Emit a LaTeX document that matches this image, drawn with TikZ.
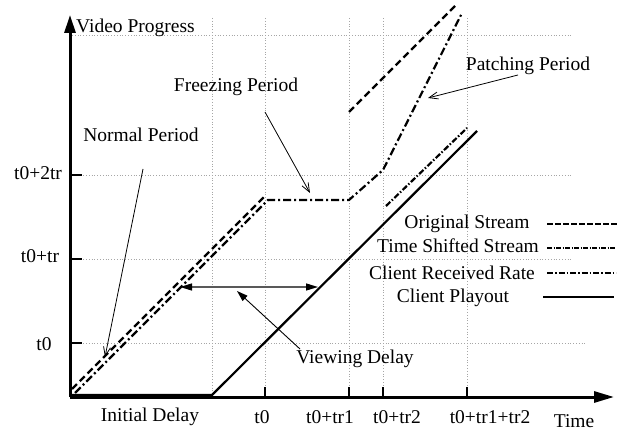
\documentclass[tikz,border=0pt]{standalone}
\usepackage{fontspec}
\setmainfont{Liberation Serif}
\usetikzlibrary{arrows.meta}
\tikzset{
  lbl/.style={inner sep=0pt, font=\fontsize{19.5}{22}\selectfont, anchor=base},
  grid/.style={dotted, gray!70, line width=0.8pt},
  axis/.style={line width=3pt},
  curve/.style={line width=2.2pt},
  origpat/.style={dash pattern=on 7pt off 4pt},
  shiftpat/.style={dash pattern=on 6pt off 2pt on 1.5pt off 2pt},
  recvpat/.style={dash pattern=on 8pt off 3pt on 2pt off 3pt},
  note/.style={line width=0.8pt, -{Straight Barb[length=9pt,width=7pt]}},
  fnote/.style={line width=0.9pt, -{Triangle[length=11pt,width=7pt]}},
}
\begin{document}
\begin{tikzpicture}[x=1pt,y=-1pt]
\useasboundingbox (0,0) rectangle (634,435);
% grid
\foreach \gx in {212,265,349,383,467} \draw[grid] (\gx,18) -- (\gx,397);
\foreach \gy in {35,175,259} \draw[grid] (72,\gy) -- (573,\gy);
\draw[grid] (72,343) -- (587,343);
% axes
\coordinate (O) at (70,397);
\coordinate (ytop) at (70,15);
\coordinate (xend) at (614,397);
\draw[axis, -{Triangle[length=18pt,width=11pt]}] (O) -- (ytop);
\draw[axis, -{Triangle[length=20pt,width=11pt]}] (O) -- (xend);
% ticks
\foreach \gy in {175,259,343} \draw[line width=1.5pt] (70,\gy) -- (82,\gy);
\foreach \gx in {265,349,383,467} \draw[line width=1.5pt] (\gx,397) -- (\gx,387);
% axis labels
\node[lbl, anchor=base west] (vp) at (76,33) {Video Progress};
\node[lbl] (y2) at (38,180) {t0+2tr};
\node[lbl] (y1) at (40,263) {t0+tr};
\node[lbl] (y0) at (44,350) {t0};
\node[lbl] (xi) at (150,421) {Initial Delay};
\node[lbl] (x0) at (262,423) {t0};
\node[lbl] (x1) at (330,423) {t0+tr1};
\node[lbl] (x2) at (397,423) {t0+tr2};
\node[lbl] (x3) at (490,423) {t0+tr1+tr2};
\node[lbl] (xt) at (574,427) {Time};
% curves
\coordinate (o1) at (72,389); \coordinate (o2) at (265,196);
\coordinate (o3) at (349,112); \coordinate (o4) at (456,5);
\draw[curve, origpat] (o1) -- (o2);
\draw[curve, origpat] (o3) -- (o4);
\coordinate (r1) at (75,393); \coordinate (r2) at (268,200);
\coordinate (r3) at (349,200); \coordinate (r4) at (383,170); \coordinate (r5) at (462,13);
\draw[curve, recvpat] (r1) -- (r2) -- (r3) -- (r4) -- (r5);
\coordinate (s1) at (386,206); \coordinate (s2) at (467,128);
\draw[curve, shiftpat] (s1) -- (s2);
\coordinate (p1) at (70,395); \coordinate (p2) at (212,395); \coordinate (p3) at (477,131);
\draw[curve] (p1) -- (p2) -- (p3);
% annotations
\node[lbl] (np) at (141,142) {Normal Period};
\node[lbl] (fp) at (236,92) {Freezing Period};
\node[lbl] (pp) at (528,71) {Patching Period};
\node[lbl] (vd) at (355,363) {Viewing Delay};
\coordinate (npa) at (143,169); \coordinate (npb) at (105,357);
\coordinate (fpa) at (265,112); \coordinate (fpb) at (310,193);
\coordinate (ppa) at (518,75); \coordinate (ppb) at (428,98);
\coordinate (vda) at (300,349); \coordinate (vdb) at (237,291);
\coordinate (dl) at (180,287); \coordinate (dr) at (318,287);
\draw[note] (npa) -- (npb);
\draw[note] (fpa) -- (fpb);
\draw[note] (ppa) -- (ppb);
\draw[fnote] (vda) -- (vdb);
\draw[line width=1.3pt, gray!70!black, {Triangle[length=12pt,width=7pt,color=black]}-{Triangle[length=12pt,width=7pt,color=black]}] (dl) -- (dr);
% legend
\node[lbl] (l1) at (467,229) {Original Stream};
\node[lbl] (l2) at (458,253) {Time Shifted Stream};
\node[lbl] (l3) at (452,280) {Client Received Rate};
\node[lbl] (l4) at (453,303) {Client Playout};
\coordinate (l1a) at (547,224); \coordinate (l1b) at (617,224);
\coordinate (l2a) at (547,248); \coordinate (l2b) at (616,248);
\coordinate (l3a) at (547,273); \coordinate (l3b) at (616,273);
\coordinate (l4a) at (543,297); \coordinate (l4b) at (614,297);
\draw[line width=1.2pt, dash pattern=on 5.5pt off 2.5pt] (l1a) -- (l1b);
\draw[line width=1.2pt, dash pattern=on 5pt off 1.5pt on 1pt off 1.5pt] (l2a) -- (l2b);
\draw[line width=1.2pt, dash pattern=on 6pt off 2pt on 1.5pt off 2pt] (l3a) -- (l3b);
\draw[line width=1.4pt] (l4a) -- (l4b);
\end{tikzpicture}
\end{document}
